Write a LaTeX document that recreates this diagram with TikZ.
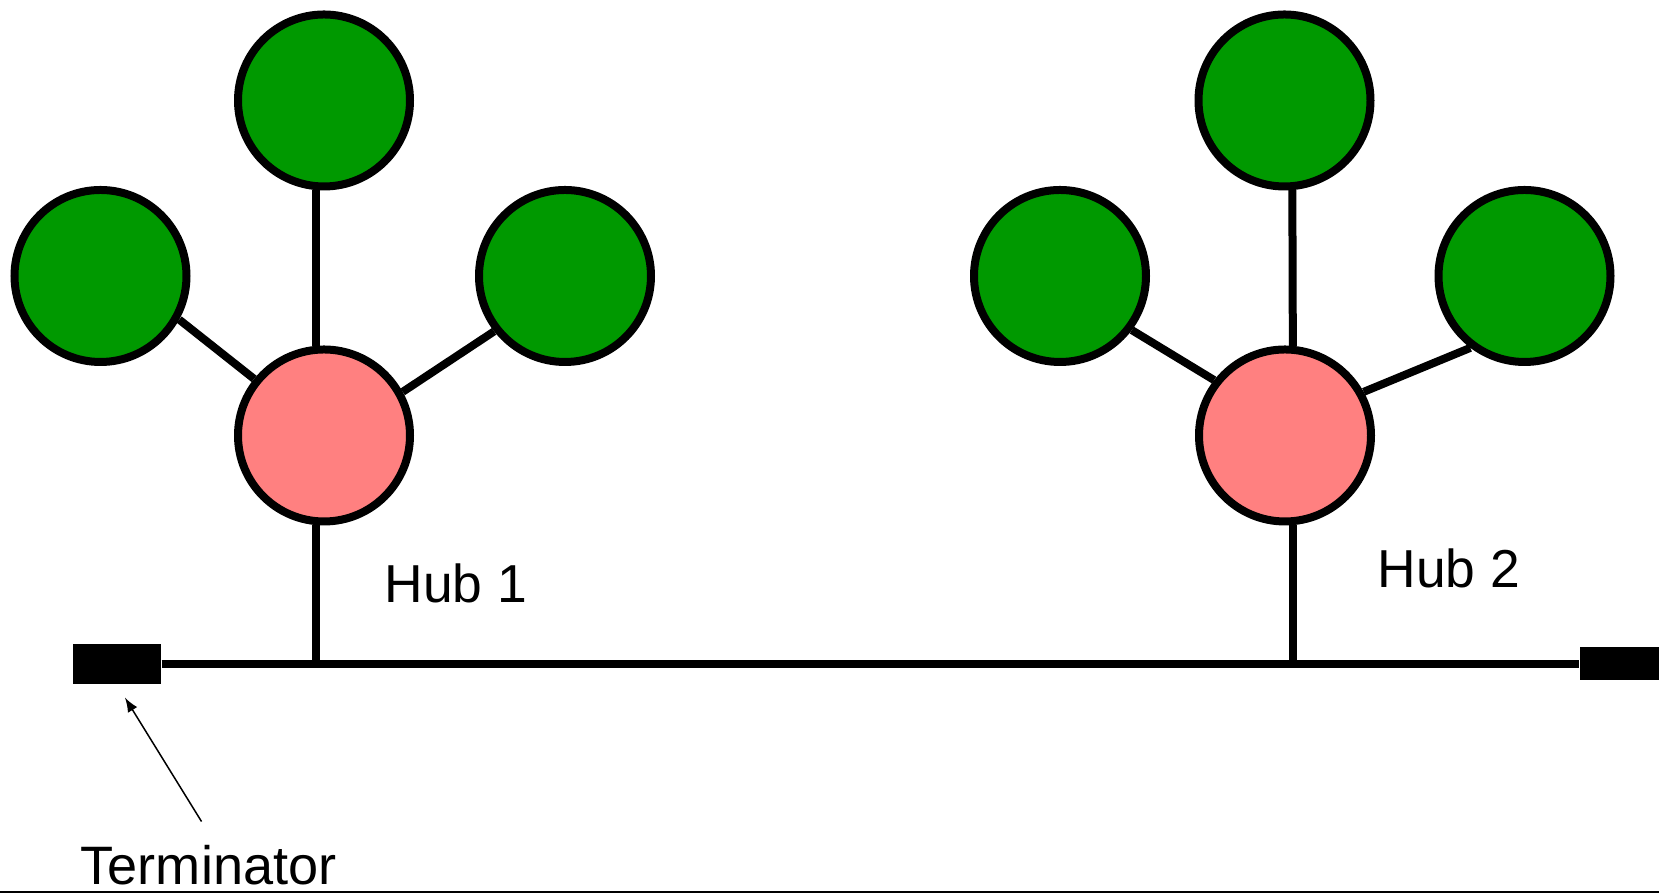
\documentclass[tikz,border=0pt]{standalone}
\usepackage{fontspec}
\setmainfont{Liberation Sans}
\definecolor{pcgreen}{RGB}{0,153,0}
\definecolor{hubpink}{RGB}{255,128,128}
\begin{document}
\begin{tikzpicture}
\tikzset{pc/.style={circle,draw,line width=0.08cm,fill=pcgreen,minimum size=1.72cm,inner sep=0pt},
hub/.style={pc,fill=hubpink},
wire/.style={line width=0.08cm},
term/.style={fill=black,inner sep=0pt},
lbl/.style={inner sep=0pt,anchor=base west,font=\fontsize{15.2}{18}\selectfont}}
\useasboundingbox (0,0) rectangle (16.59,8.93);
%bottom rule
\draw[line width=0.02cm](0,0.01)--(16.59,0.01);
%hub 1
\node[hub](hubA) at (3.24,4.575){};
\node[pc](topA) at (3.24,7.925){};
\node[pc](leftA) at (1.005,6.17){};
\node[pc](rightA) at (5.65,6.17){};
%hub 2
\node[hub](hubB) at (12.85,4.575){};
\node[pc](topB) at (12.845,7.925){};
\node[pc](leftB) at (10.60,6.17){};
\node[pc](rightB) at (15.245,6.17){};
%terminators
\node[term,minimum width=0.88cm,minimum height=0.40cm](termL) at (1.17,2.29){};
\node[term,minimum width=0.79cm,minimum height=0.33cm](termR) at (16.195,2.29){};
%bus
\draw[wire](termL.east)--(termR.west);
\draw[wire](hubA.265)--(hubA.265 |- termL.east);
\draw[wire](hubB.275)--(hubB.275 |- termL.east);
%star wiring
\draw[wire](topA.265)--(hubA.95);
\draw[wire](leftA.331)--(hubA.141);
\draw[wire](rightA.218)--(hubA.29);
\draw[wire](topB.275)--(hubB.85);
\draw[wire](leftB.323)--(hubB.142);
\draw[wire](rightB.233)--(hubB.29);
%labels
\node[lbl](hubAlbl) at (3.84,2.90){Hub 1};
\node[lbl](hubBlbl) at (13.77,3.05){Hub 2};
\node[lbl,font=\fontsize{15.4}{18}\selectfont](termlbl) at (0.80,0.085){Terminator};
\draw[-latex,line width=0.015cm]([shift={(-0.07,0.23)}]termlbl.north)--([shift={(0.08,-0.13)}]termL.south);
\end{tikzpicture}
\end{document}
